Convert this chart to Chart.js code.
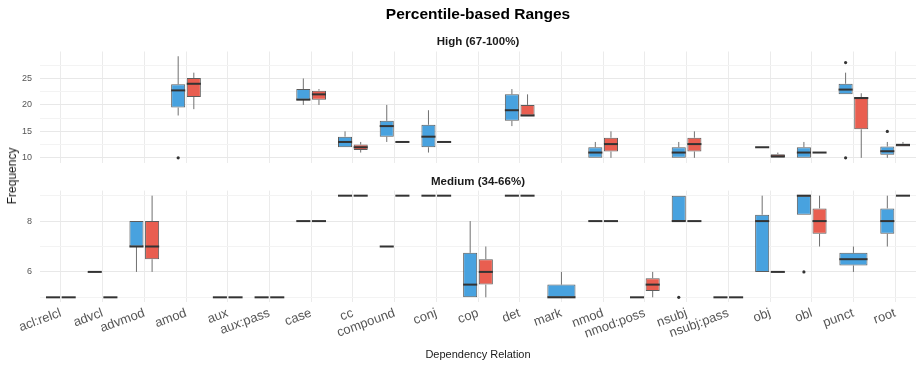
<!DOCTYPE html>
<html>
<head>
<meta charset="utf-8">
<script src="https://cdn.jsdelivr.net/npm/chart.js@4.4.1/dist/chart.umd.min.js"></script>
<style>
  html, body { margin: 0; padding: 0; background: #fff; }
  #wrap { position: relative; width: 919px; height: 369px; font-family: "Liberation Sans", Arial, sans-serif; }
  #highChart { position: absolute; left: 0; top: 0; }
  #medChart { position: absolute; left: 0; top: 166px; }
  #yTitle { position: absolute; left: 12px; top: 176px; transform: translate(-50%, -50%) rotate(-90deg);
            font-size: 12px; color: #1a1a1a; white-space: nowrap; }
</style>
</head>
<body>
<div id="wrap">
  <canvas id="highChart" width="919" height="176"></canvas>
  <canvas id="medChart" width="919" height="203"></canvas>
  <div id="yTitle">Frequency</div>
</div>
<script>
const categories = ["acl:relcl", "advcl", "advmod", "amod", "aux", "aux:pass", "case", "cc",
  "compound", "conj", "cop", "det", "mark", "nmod", "nmod:poss", "nsubj", "nsubj:pass",
  "obj", "obl", "punct", "root"];

// box stats per category: [min, q1, median, q3, max], null = no box
const highBlue = [null, null, null, [18, 19.5, 22.75, 23.9, 29.2], null, null,
  [20, 21, 21, 23, 25], [12, 12, 13, 14, 15], [13, 14, 16, 17, 20], [11, 12, 14, 16.25, 19],
  null, [16, 17, 19, 22, 23], null, [10, 10, 11, 12, 13], null, [10, 10, 11, 12, 13], null,
  [12, 12, 12, 12, 12], [10, 10, 11, 12, 13], [22, 22, 22.9, 24, 26.1], [10, 10.6, 11.25, 12.15, 13]];
const highRed = [null, null, null, [19.2, 21.5, 24, 25.1, 26.1], null, null,
  [20, 21, 22, 22.7, 23], [11, 11.5, 12, 12.5, 13], [13, 13, 13, 13, 13], [13, 13, 13, 13, 13],
  null, [18, 18, 18, 20, 22], null, [10, 11.2, 12.6, 13.8, 15], null, [10, 11.2, 12.6, 13.8, 15], null,
  [10, 10, 10.3, 10.7, 11], [11, 11, 11, 11, 11], [10, 15.4, 21.3, 21.5, 22.2], [12.15, 12.15, 12.45, 12.66, 13]];

const medBlue = [[5, 5, 5, 5, 5], [6, 6, 6, 6, 6], [6, 7, 7, 8, 8], null, [5, 5, 5, 5, 5],
  [5, 5, 5, 5, 5], [8, 8, 8, 8, 8], [9, 9, 9, 9, 9], [7, 7, 7, 7, 7], [9, 9, 9, 9, 9],
  [5, 5, 5.5, 6.75, 8], [9, 9, 9, 9, 9], [5, 5, 5, 5.5, 6], [8, 8, 8, 8, 8], [5, 5, 5, 5, 5],
  [8, 8, 8, 9, 9], [5, 5, 5, 5, 5], [6, 6, 8, 8.25, 9], [8.25, 8.25, 9, 9, 9],
  [6, 6.25, 6.5, 6.75, 7], [7, 7.5, 8, 8.5, 9]];
const medRed = [[5, 5, 5, 5, 5], [5, 5, 5, 5, 5], [6, 6.5, 7, 8, 9], null, [5, 5, 5, 5, 5],
  [5, 5, 5, 5, 5], [8, 8, 8, 8, 8], [9, 9, 9, 9, 9], [9, 9, 9, 9, 9], [9, 9, 9, 9, 9],
  [5, 5.5, 6, 6.5, 7], [9, 9, 9, 9, 9], null, [8, 8, 8, 8, 8], [5, 5.25, 5.5, 5.75, 6],
  [8, 8, 8, 8, 8], [5, 5, 5, 5, 5], [6, 6, 6, 6, 6], [7, 7.5, 8, 8.5, 9], null, [9, 9, 9, 9, 9]];

// outliers: [category, value]
const highBlueOut = [["amod", 10], ["punct", 28], ["punct", 10], ["root", 15]];
const highRedOut = [];
const medBlueOut = [["nsubj", 5], ["obl", 6]];
const medRedOut = [];

const highTicks = [10, 12.5, 15, 17.5, 20, 22.5, 25, 27.5];
const highLabels = [10, 15, 20, 25];
const medTicks = [5, 6, 7, 8, 9];
const medLabels = [6, 8];

const fontFamily = "'Liberation Sans', Arial, sans-serif";
Chart.defaults.font.family = fontFamily;

// whiskers, medians and outlier dots on top of the floating bars
const boxParts = {
  id: 'boxParts',
  afterDatasetsDraw(chart) {
    const ctx = chart.ctx;
    const y = chart.scales.y;
    chart.data.datasets.forEach((ds, di) => {
      const meta = chart.getDatasetMeta(di);
      ds.stats.forEach((s, i) => {
        if (!s) return;
        const bar = meta.data[i];
        const x = bar.x, half = bar.width / 2;
        ctx.save();
        ctx.strokeStyle = '#707070';
        ctx.lineWidth = 1;
        ctx.beginPath();
        ctx.moveTo(x, y.getPixelForValue(s[0]));
        ctx.lineTo(x, y.getPixelForValue(s[1]));
        ctx.moveTo(x, y.getPixelForValue(s[3]));
        ctx.lineTo(x, y.getPixelForValue(s[4]));
        ctx.stroke();
        ctx.strokeStyle = '#333333';
        ctx.lineWidth = 2;
        ctx.beginPath();
        const my = y.getPixelForValue(s[2]);
        ctx.moveTo(x - half, my);
        ctx.lineTo(x + half, my);
        ctx.stroke();
        ctx.restore();
      });
      ds.outliers.forEach(([cat, v]) => {
        const bar = meta.data[categories.indexOf(cat)];
        ctx.save();
        ctx.fillStyle = '#333333';
        ctx.beginPath();
        ctx.arc(bar.x, y.getPixelForValue(v), 1.6, 0, Math.PI * 2);
        ctx.fill();
        ctx.restore();
      });
    });
  }
};

function boxDataset(stats, outliers, fill) {
  return {
    data: stats.map(s => s ? [s[1], s[3]] : null),
    stats: stats,
    outliers: outliers,
    backgroundColor: fill,
    borderColor: '#5c5c5c',
    borderWidth: 1,
    borderSkipped: false,
    skipNull: true,
    categoryPercentage: 0.75,
    barPercentage: 0.9
  };
}

function yAxis(min, max, ticks, labels) {
  return {
    min: min,
    max: max,
    afterBuildTicks: axis => { axis.ticks = ticks.map(v => ({ value: v })); },
    afterFit: axis => { axis.width = 40; },
    border: { display: false },
    grid: {
      drawTicks: false,
      color: c => (c.tick && labels.includes(c.tick.value)) ? '#e8e8e8' : '#f3f3f3'
    },
    ticks: {
      callback: v => labels.includes(v) ? v : '',
      font: { size: 9 },
      color: '#555555',
      padding: 8
    }
  };
}

// High (67-100%)
new Chart(document.getElementById('highChart'), {
  type: 'bar',
  data: {
    labels: categories,
    datasets: [
      boxDataset(highBlue, highBlueOut, '#48a2df'),
      boxDataset(highRed, highRedOut, '#e95e50')
    ]
  },
  options: {
    responsive: false,
    animation: false,
    devicePixelRatio: 1,
    layout: { padding: { left: 0, right: 3, top: 0, bottom: 4 } },
    plugins: {
      legend: { display: false },
      tooltip: { enabled: false },
      title: {
        display: true,
        fullSize: false,
        text: 'Percentile-based Ranges',
        color: '#000000',
        font: { size: 15.5, weight: 'bold' },
        padding: { top: 5.3, bottom: 3 }
      },
      subtitle: {
        display: true,
        fullSize: false,
        text: 'High (67-100%)',
        color: '#1a1a1a',
        font: { size: 11.5, weight: 'bold' },
        padding: { top: 8, bottom: 2.8 }
      }
    },
    scales: {
      x: {
        grid: { offset: false, color: '#ebebeb', drawTicks: false },
        border: { display: false },
        ticks: { display: false },
        afterFit: axis => { axis.height = 0; }
      },
      y: yAxis(9.1, 30.1, highTicks, highLabels)
    }
  },
  plugins: [boxParts]
});

// Medium (34-66%)
new Chart(document.getElementById('medChart'), {
  type: 'bar',
  data: {
    labels: categories,
    datasets: [
      boxDataset(medBlue, medBlueOut, '#48a2df'),
      boxDataset(medRed, medRedOut, '#e95e50')
    ]
  },
  options: {
    responsive: false,
    animation: false,
    devicePixelRatio: 1,
    layout: { padding: { left: 0, right: 3, top: 0, bottom: 0 } },
    plugins: {
      legend: { display: false },
      tooltip: { enabled: false },
      title: {
        display: true,
        fullSize: false,
        text: 'Medium (34-66%)',
        color: '#1a1a1a',
        font: { size: 11.5, weight: 'bold' },
        padding: { top: 9.1, bottom: 1.7 }
      }
    },
    scales: {
      x: {
        grid: { offset: false, color: '#ebebeb', drawTicks: false },
        border: { display: false },
        ticks: {
          autoSkip: false,
          minRotation: 20,
          maxRotation: 20,
          font: { size: 13 },
          color: '#555555',
          padding: 3
        },
        title: {
          display: true,
          text: 'Dependency Relation',
          color: '#1a1a1a',
          font: { size: 11 },
          padding: { top: 0, bottom: 7.4 }
        },
        afterFit: axis => { axis.height = 66.6; }
      },
      y: yAxis(4.8, 9.2, medTicks, medLabels)
    }
  },
  plugins: [boxParts]
});
</script>
</body>
</html>
